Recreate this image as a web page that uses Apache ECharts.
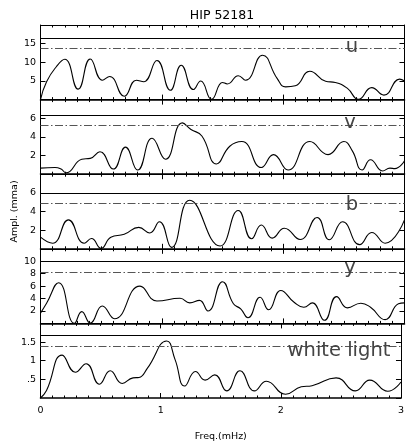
<!DOCTYPE html>
<html><head><meta charset="utf-8">
<script src="https://cdn.jsdelivr.net/npm/echarts@6/dist/echarts.min.js"></script>
<style>html,body{margin:0;padding:0;background:#fff}#c{width:407px;height:445px}</style>
</head><body><div id="c"></div>
<script>
const titleText = 'HIP 52181';
const xName = 'Freq.(mHz)';
const yName = 'Ampl. (mma)';
const panelNames = ['u', 'v', 'b', 'y', 'white light'];
const xTickLabels = ['0', '1', '2', '3'];

const uFreq = [0,0.05,0.13,0.2,0.31,0.41,0.51,0.57,0.69,0.79,0.85,0.96,1.07,1.16,1.26,1.32,1.41,1.50,1.54,1.63,1.69,1.83,1.95,2.02,2.10,2.22,2.35,2.43,2.53,2.62,2.73,2.83,2.96,3.0];
const uAmp  = [0,4.8,8.8,10.8,2.8,10.9,5.2,6.2,0.9,5.2,4.8,10.5,2.5,9.2,2.7,5.0,0.1,4.6,4.2,6.4,5.2,11.9,5.7,3.4,3.7,7.6,4.9,4.6,3.0,0.05,3.2,1.2,5.5,5.0];

const vFreq = [0,0.12,0.17,0.21,0.34,0.41,0.49,0.60,0.70,0.80,0.92,1.03,1.17,1.24,1.33,1.45,1.56,1.66,1.82,1.92,2.04,2.22,2.37,2.50,2.57,2.65,2.72,2.82,2.88,2.92,3.0];
const vAmp  = [0.65,0.72,0.55,0.15,1.6,1.7,2.4,0.55,2.9,0.45,3.85,1.6,5.5,4.8,4.1,1.1,3.0,3.5,0.72,2.1,0.45,3.5,2.1,3.5,2.5,0.45,1.55,0.35,0.65,0.6,1.45];

const bFreq = [0,0.10,0.23,0.36,0.42,0.50,0.58,0.69,0.81,0.90,0.98,1.08,1.23,1.48,1.63,1.74,1.82,1.91,2.01,2.14,2.28,2.38,2.49,2.63,2.73,2.84,3.0];
const bAmp  = [1.25,0.6,3.1,0.6,1.1,0.05,1.25,1.55,2.3,1.7,2.9,0.15,5.2,0.3,4.1,1.07,2.55,1.15,2.2,1.0,3.35,0.97,2.9,0.45,1.75,0.6,3.1];

const yFreq = [0,0.05,0.15,0.28,0.34,0.41,0.51,0.61,0.82,0.96,1.15,1.23,1.31,1.38,1.50,1.59,1.65,1.71,1.81,1.88,1.98,2.09,2.17,2.24,2.34,2.44,2.53,2.64,2.72,2.84,2.95,3.0];
const yAmp  = [1.65,3.25,6.55,0,1.9,0.05,2.8,0.75,6.0,3.6,4.05,3.3,3.7,2.0,6.7,3.15,2.35,0.9,4.2,2.2,5.3,3.4,2.6,3.3,0.5,4.3,2.5,3.25,2.6,0.6,3.15,3.3];

const wFreq = [0,0.05,0.18,0.29,0.38,0.49,0.58,0.68,0.77,0.82,0.89,1.05,1.12,1.20,1.29,1.37,1.45,1.55,1.66,1.78,1.88,2.04,2.17,2.26,2.46,2.62,2.74,2.89,3.0];
const wAmp  = [0,0.2,1.15,0.69,0.92,0.37,0.73,0.39,0.54,0.55,0.8,1.53,1.03,0.32,0.71,0.48,0.62,0.19,0.73,0.19,0.45,0.1,0.3,0.33,0.54,0.19,0.48,0.18,0.43];

const yMaxes = [20, 8, 8, 12, 2];
const yIntervals = [5, 2, 2, 2, 0.5];
const solidLevel = [16.5, 6.29, 6.0, 10.0, 1.68];
const dashLevel = [13.7, 5.22, 4.92, 8.2, 1.39];

const freqs = [uFreq, vFreq, bFreq, yFreq, wFreq];
const amps = [uAmp, vAmp, bAmp, yAmp, wAmp];

const FONT = 'DejaVu Sans';
const gridTop = 25, gridH = 74.6, gridLeft = 40.5, gridW = 364;
const labelPos = [[352, 47], [350, 123], [352, 205], [350, 268], [339, 351]];

const grids = [], xAxes = [], yAxes = [], series = [], graphics = [];
for (let i = 0; i < 5; i++) {
  grids.push({left: gridLeft, top: gridTop + i * gridH, width: gridW, height: gridH});
  const last = i === 4;
  const xBase = {
    type: 'value', gridIndex: i, min: 0, max: 3, interval: 1,
    axisLine: {show: true, onZero: false, lineStyle: {color: '#000', width: 1}},
    axisTick: {show: true, inside: true, length: 5, lineStyle: {color: '#000'}},
    minorTick: {show: true, splitNumber: 10, length: 2.5, lineStyle: {color: '#000'}},
    splitLine: {show: false}, minorSplitLine: {show: false}
  };
  xAxes.push(Object.assign({}, xBase, {
    position: 'bottom',
    axisLine: {show: true, onZero: false, lineStyle: {color: '#000', width: 1.6}},
    axisLabel: {show: last, color: '#000', fontFamily: FONT, fontSize: 9.5, margin: 8,
      formatter: v => xTickLabels[Math.round(v)]},
    name: last ? xName : '', nameLocation: 'middle', nameGap: 34,
    nameTextStyle: {color: '#000', fontFamily: FONT, fontSize: 9.5}
  }));
  xAxes.push(Object.assign({}, xBase, {position: 'top', axisLabel: {show: false}}));
  const yBase = {
    type: 'value', gridIndex: i, min: 0, max: yMaxes[i], interval: yIntervals[i],
    axisLine: {show: true, onZero: false, lineStyle: {color: '#000', width: 1}},
    axisTick: {show: true, inside: true, length: 5, lineStyle: {color: '#000'}},
    splitLine: {show: false}
  };
  yAxes.push(Object.assign({}, yBase, {
    position: 'left',
    axisLabel: {show: true, color: '#000', fontFamily: FONT, fontSize: 9.5, margin: 4.5,
      showMinLabel: false, showMaxLabel: false,
      formatter: v => (v > 0 && v < 1) ? String(v).replace(/^0/, '') : String(v)},
    name: i === 2 ? yName : '', nameLocation: 'middle', nameGap: 17, nameRotate: 90,
    nameTextStyle: {color: '#000', fontFamily: FONT, fontSize: 9.5}
  }));
  yAxes.push(Object.assign({}, yBase, {position: 'right', axisLabel: {show: false}}));

  series.push({
    type: 'line', xAxisIndex: 2 * i, yAxisIndex: 2 * i,
    data: freqs[i].map((f, k) => [f, amps[i][k]]),
    smooth: 0.5, showSymbol: false, symbol: 'none',
    lineStyle: {color: '#000', width: 1.1}, animation: false, silent: true, z: 3,
    markLine: {
      silent: true, symbol: 'none', animation: false, label: {show: false},
      data: [
        {yAxis: solidLevel[i], lineStyle: {color: '#000', width: 1, type: 'solid'}},
        {yAxis: dashLevel[i], lineStyle: {color: '#555', width: 1, type: [8, 2.5, 1.5, 2.5]}}
      ]
    }
  });
  graphics.push({
    type: 'text', x: labelPos[i][0], y: labelPos[i][1], z: 10,
    style: {text: panelNames[i], fill: '#444', font: '19.5px "DejaVu Sans"',
      textAlign: 'center', textVerticalAlign: 'middle'}
  });
}
graphics.push({
  type: 'text', x: 222, y: 15.5, z: 10,
  style: {text: titleText, fill: '#000', font: '12.5px "DejaVu Sans"',
    textAlign: 'center', textVerticalAlign: 'middle'}
});

const chart = echarts.init(document.getElementById('c'), null, {renderer: 'canvas'});
chart.setOption({
  backgroundColor: '#fff',
  animation: false,
  grid: grids, xAxis: xAxes, yAxis: yAxes, series: series,
  graphic: graphics
});
</script></body></html>
